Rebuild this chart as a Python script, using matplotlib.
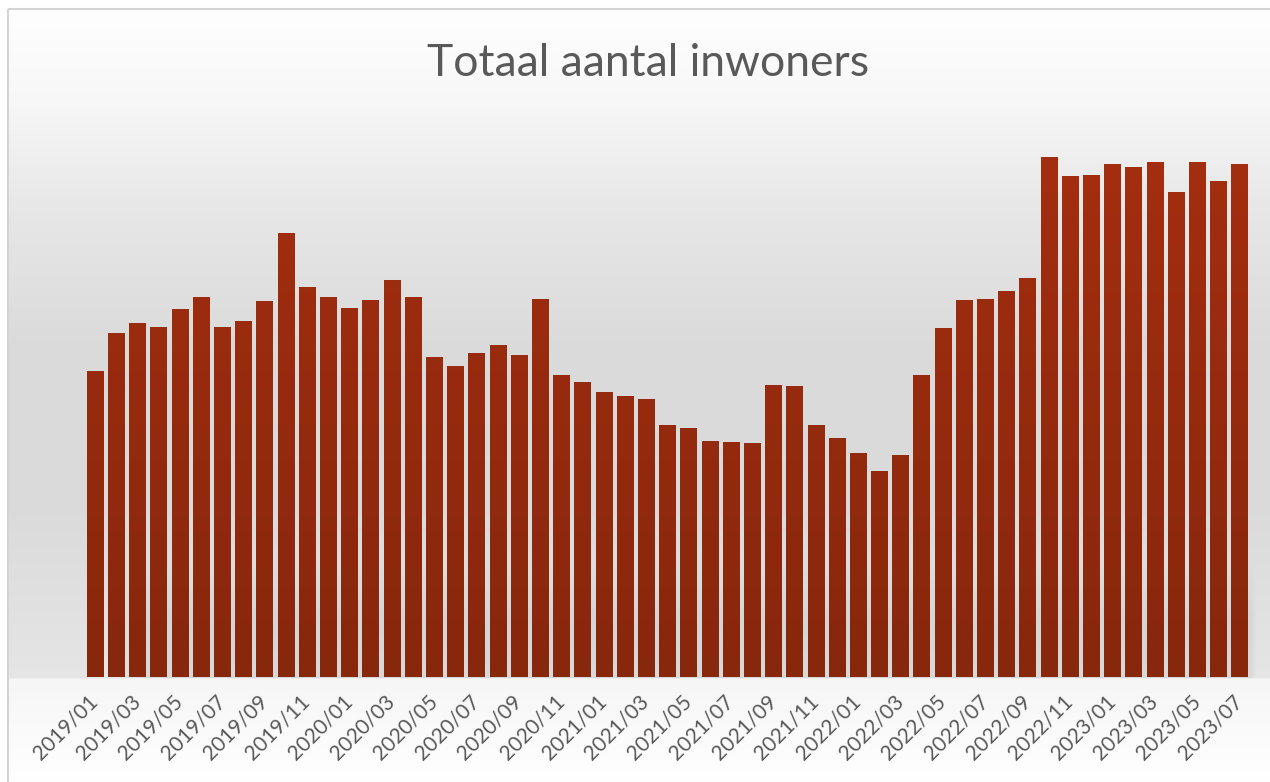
import numpy as np
import matplotlib
matplotlib.use('Agg')
import matplotlib.pyplot as plt
from matplotlib.colors import LinearSegmentedColormap
from matplotlib.patches import Rectangle

# Data (relative heights, no y axis in the original)
months = ['2019/01', '2019/02', '2019/03', '2019/04', '2019/05', '2019/06',
          '2019/07', '2019/08', '2019/09', '2019/10', '2019/11', '2019/12',
          '2020/01', '2020/02', '2020/03', '2020/04', '2020/05', '2020/06',
          '2020/07', '2020/08', '2020/09', '2020/10', '2020/11', '2020/12',
          '2021/01', '2021/02', '2021/03', '2021/04', '2021/05', '2021/06',
          '2021/07', '2021/08', '2021/09', '2021/10', '2021/11', '2021/12',
          '2022/01', '2022/02', '2022/03', '2022/04', '2022/05', '2022/06',
          '2022/07', '2022/08', '2022/09', '2022/10', '2022/11', '2022/12',
          '2023/01', '2023/02', '2023/03', '2023/04', '2023/05', '2023/06',
          '2023/07']
inwoners = [306, 344, 354, 350, 368, 380, 350, 356, 376, 444, 390, 380,
            369, 377, 397, 380, 320, 311, 324, 332, 322, 378, 302, 295,
            285, 281, 278, 252, 249, 236, 235, 234, 292, 291, 252, 239,
            224, 206, 222, 302, 349, 377, 378, 386, 399, 520, 501, 502,
            513, 510, 515, 485, 515, 496, 513]
title = 'Totaal aantal inwoners'

W, H = 1270, 782
fig = plt.figure(figsize=(W / 100, H / 100), dpi=100)
fig.patch.set_facecolor('white')

# background gradient of the chart area
bg = fig.add_axes([0, 0, 1, 1], zorder=0)
rows = np.arange(H)
stops_y = [0, 100, 200, 350, 500, 600, 677, 679, 782]
stops_v = [1.0, 0.97, 0.91, 0.855, 0.855, 0.88, 0.9, 0.965, 1.0]
col = np.interp(rows, stops_y, stops_v)
img = np.repeat(col[:, None], W, axis=1)
# soft "reflection" band at the bottom of the plot area
band = np.clip((rows - 560) / 60.0, 0, 1) * (rows < 678)
xfade = np.clip((np.arange(W) - 110) / 40.0, 0, 1) * np.clip((1256 - np.arange(W)) / 6.0, 0, 1)
img = img - 0.05 * band[:, None] * xfade[None, :]
img[:9, :] = 1.0
img[:, :8] = 1.0
bg.imshow(np.dstack([img, img, img]), aspect='auto', extent=[0, W, H, 0])
bg.set_xlim(0, W)
bg.set_ylim(H, 0)
bg.axis('off')
bg.add_patch(Rectangle((8, 9), W, H, fill=False, edgecolor='#D4D4D4', linewidth=1.5))

# main plot
ax = fig.add_axes([79 / W, 105 / H, 1171 / W, 600 / H], zorder=1)
ax.set_facecolor('none')
x = np.arange(len(months))
bars = ax.bar(x, inwoners, width=0.755, color='none', edgecolor='none')

cmap = LinearSegmentedColormap.from_list('bar', ['#87270C', '#A52E10'])
grad = np.linspace(0, 1, 256)[:, None]
for b in bars:
    im = ax.imshow(grad, cmap=cmap, origin='lower', aspect='auto',
                   extent=[-0.75, 54.5, 0, 540], zorder=2)
    im.set_clip_path(b)
ax.set_xlim(-0.75, 54.5)
ax.set_ylim(0, 600)

for s in ax.spines.values():
    s.set_visible(False)
ax.set_yticks([])
ax.set_xticks(x[::2])
ax.set_xticklabels(months[::2], rotation=45, ha='right', va='center',
                   rotation_mode='anchor', fontsize=15, color='#595959',
                   family='Lato')
ax.tick_params(axis='x', length=0, pad=15)

fig.text(648 / W, 1 - 63 / H, title, ha='center', va='center',
         fontsize=32, color='#595959', family='Lato')

fig.savefig('out.png', dpi=100)
